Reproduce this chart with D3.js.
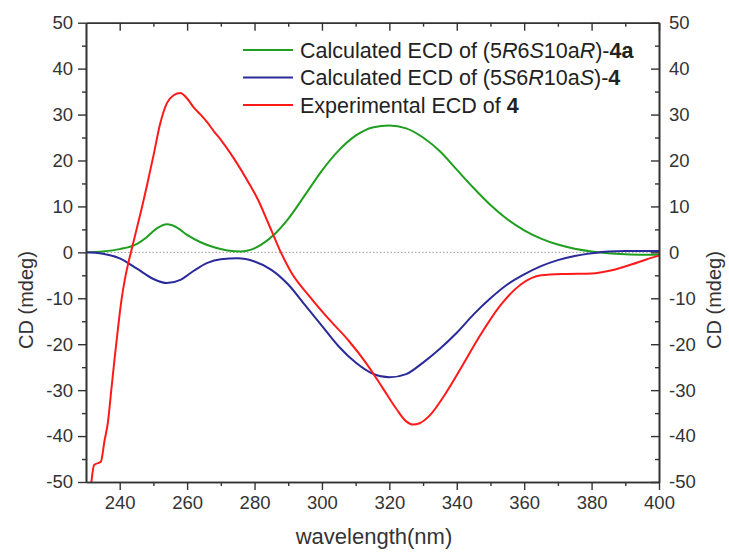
<!DOCTYPE html>
<html>
<head>
<meta charset="utf-8">
<script src="https://cdn.jsdelivr.net/npm/d3@7"></script>
<style>
  body { margin: 0; background: #fff; }
  svg { font-family: "Liberation Sans", Arial, sans-serif; }
  .axis path, .axis line { stroke: #333; }
  .axis text { fill: #333; font-size: 18.5px; font-family: "Liberation Sans", Arial, sans-serif; }
</style>
</head>
<body>
<svg id="chart" width="729" height="552"></svg>
<script>
// calculated ECD of (5R6S10aR)-4a
var greenNm  = [230,235,240,245,248,251,254,257,260,264,268,272,276,279,282,286,290,295,300,305,310,315,320,325,330,335,340,345,350,355,360,365,370,375,380,385,390,395,400];
var greenCd  = [0,0.2,0.7,1.8,3.3,5.2,6.1,5.4,3.8,2.2,1.1,0.4,0.2,0.6,1.7,4,7.3,12.5,17.8,22.2,25.4,27.2,27.6,27,25,22,18,14,10.3,7.2,4.8,3,1.7,0.8,0.2,-0.2,-0.4,-0.5,-0.5];
// calculated ECD of (5S6R10aS)-4
var blueNm   = [230,235,240,245,250,254,258,262,266,270,275,280,285,290,295,300,305,310,315,320,325,330,335,340,345,350,355,360,365,370,375,380,385,390,395,400];
var blueCd   = [0,-0.3,-1.3,-3.5,-5.8,-6.7,-6,-4,-2.3,-1.5,-1.3,-2,-3.8,-7,-11.5,-16,-20.5,-24,-26.4,-27.2,-26.5,-24,-21,-17.5,-13.5,-10,-7,-4.8,-3,-1.7,-0.8,-0.2,0.2,0.3,0.3,0.3];
// experimental ECD of 4
var redNm    = [231.6,232.4,234.4,235.5,236.5,237.5,238.5,239.5,240.5,241.5,242.5,243.5,245,246.5,248,250,252,254,256,258,260,262,264,266,268,270,274,278,281,284,287.5,291,296,302,308,313,318,322,325,327,329,332,336,341,347,353,359,365,372,380,386,392,396,400];
var redCd    = [-50,-46.3,-45.6,-41,-37,-30,-23,-16.5,-10.5,-6,-2.5,0.5,5,9.5,14.3,21,28,32.5,34.2,34.7,33.5,31.5,30,28.3,26.3,24.5,20.3,15.5,11.5,6.5,0.5,-4.5,-9.3,-14.5,-19.3,-24,-29.5,-34,-36.8,-37.5,-37.2,-35.5,-31.5,-25.5,-18,-11.5,-7,-5,-4.7,-4.6,-3.9,-2.6,-1.6,-0.7];

var xMajor = [240,260,280,300,320,340,360,380,400];
var xMinor = [250,270,290,310,330,350,370,390];
var yMajor = [-50,-40,-30,-20,-10,0,10,20,30,40,50];
var yMinor = [-45,-35,-25,-15,-5,5,15,25,35,45];

var seriesColors = ["#1f9e1f", "#2a2a9a", "#ff1a1a"];

var svg = d3.select("#chart");
var mLeft = 86, mRight = 659, mTop = 22.7, mBottom = 482;

var x = d3.scaleLinear().domain([230, 400]).range([mLeft, mRight]);
var y = d3.scaleLinear().domain([-50, 50]).range([mBottom, mTop]);
var plain = function(d) { return String(d); };

// zero reference line
svg.append("line")
  .attr("x1", mLeft).attr("x2", mRight)
  .attr("y1", y(0)).attr("y2", y(0))
  .attr("stroke", "#999").attr("stroke-width", 1)
  .attr("stroke-dasharray", "1.5,2");

var line = d3.line()
  .x(function(d) { return x(d[0]); })
  .y(function(d) { return y(d[1]); })
  .curve(d3.curveMonotoneX);

var data = [
  d3.zip(greenNm, greenCd),
  d3.zip(blueNm, blueCd),
  d3.zip(redNm, redCd)
];

svg.append("g").selectAll("path")
  .data(data)
  .enter().append("path")
  .attr("d", line)
  .attr("fill", "none")
  .attr("stroke", function(d, i) { return seriesColors[i]; })
  .attr("stroke-width", 2);

// axes
function styleAxis(g) {
  g.attr("class", "axis");
  g.select(".domain").attr("stroke-width", 1.6);
  g.selectAll(".tick line").attr("stroke-width", 1.4);
}

svg.append("g").attr("transform", "translate(0," + mBottom + ")")
  .call(d3.axisBottom(x).tickValues(xMajor).tickFormat(plain).tickSize(8).tickPadding(6).tickSizeOuter(0))
  .call(styleAxis);
svg.append("g").attr("transform", "translate(0," + mBottom + ")")
  .call(d3.axisBottom(x).tickValues(xMinor).tickSize(4).tickFormat("").tickSizeOuter(0))
  .call(styleAxis);
svg.append("g").attr("transform", "translate(0," + mTop + ")")
  .call(d3.axisTop(x).tickValues(xMajor).tickSize(-8).tickFormat("").tickSizeOuter(0))
  .call(styleAxis);
svg.append("g").attr("transform", "translate(0," + mTop + ")")
  .call(d3.axisTop(x).tickValues(xMinor).tickSize(-4).tickFormat("").tickSizeOuter(0))
  .call(styleAxis);

svg.append("g").attr("transform", "translate(" + mLeft + ",0)")
  .call(d3.axisLeft(y).tickValues(yMajor).tickFormat(plain).tickSize(8).tickPadding(5).tickSizeOuter(0))
  .call(styleAxis);
svg.append("g").attr("transform", "translate(" + mLeft + ",0)")
  .call(d3.axisLeft(y).tickValues(yMinor).tickSize(4).tickFormat("").tickSizeOuter(0))
  .call(styleAxis);
svg.append("g").attr("transform", "translate(" + mRight + ",0)")
  .call(d3.axisRight(y).tickValues(yMajor).tickFormat(plain).tickSize(-8).tickPadding(10).tickSizeOuter(0))
  .call(styleAxis);
svg.append("g").attr("transform", "translate(" + mRight + ",0)")
  .call(d3.axisRight(y).tickValues(yMinor).tickSize(-4).tickFormat("").tickSizeOuter(0))
  .call(styleAxis);

// axis titles
svg.append("text")
  .attr("x", 374).attr("y", 544)
  .attr("text-anchor", "middle").attr("font-size", 22).attr("fill", "#333")
  .text("wavelength(nm)");
svg.append("text")
  .attr("transform", "translate(33,300) rotate(-90)")
  .attr("text-anchor", "middle").attr("font-size", 20).attr("fill", "#333")
  .text("CD (mdeg)");
svg.append("text")
  .attr("transform", "translate(721,300) rotate(-90)")
  .attr("text-anchor", "middle").attr("font-size", 20).attr("fill", "#333")
  .text("CD (mdeg)");

// legend
var legendParts = [
  [["Calculated ECD of (5", ""], ["R", "i"], ["6", ""], ["S", "i"], ["10a", ""], ["R", "i"], [")-", ""], ["4a", "b"]],
  [["Calculated ECD of (5", ""], ["S", "i"], ["6", ""], ["R", "i"], ["10a", ""], ["S", "i"], [")-", ""], ["4", "b"]],
  [["Experimental ECD of ", ""], ["4", "b"]]
];
var legend = svg.append("g");
legendParts.forEach(function(parts, i) {
  var ly = 50 + i * 27.5;
  legend.append("line")
    .attr("x1", 243).attr("x2", 293).attr("y1", ly).attr("y2", ly)
    .attr("stroke", seriesColors[i]).attr("stroke-width", 2);
  var t = legend.append("text")
    .attr("x", 300).attr("y", ly + 7.5)
    .attr("font-size", 21.5).attr("fill", "#222");
  parts.forEach(function(p) {
    t.append("tspan")
      .attr("font-style", p[1] === "i" ? "italic" : null)
      .attr("font-weight", p[1] === "b" ? "bold" : null)
      .text(p[0]);
  });
});
</script>
</body>
</html>
